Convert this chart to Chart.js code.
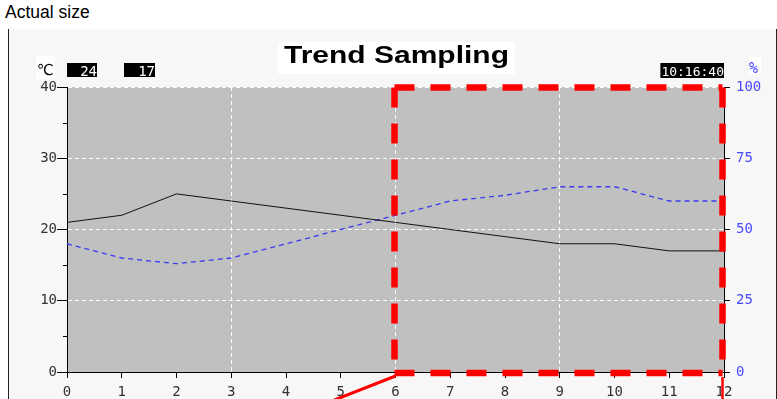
<!DOCTYPE html>
<html>
<head>
<meta charset="utf-8">
<script src="https://cdn.jsdelivr.net/npm/chart.js@4/dist/chart.umd.min.js"></script>
<style>
  html, body { margin: 0; padding: 0; background: #fff; }
  #wrap { position: relative; width: 777px; height: 399px; overflow: hidden; }
  #caption { position: absolute; left: 5px; top: 2px; font: 17.5px "Liberation Sans", Arial, sans-serif; color: #000; }
  #frame { position: absolute; left: 8px; top: 29px; width: 767px; height: 380px;
           background: #f7f7f7; border-left: 1px solid #222; border-right: 1px solid #222; }
  #trend { position: absolute; left: 0; top: 0; }
</style>
</head>
<body>
<div id="wrap">
  <div id="caption">Actual size</div>
  <div id="frame"></div>
  <canvas id="trend" width="777" height="399"></canvas>
</div>
<script>
// ── data ──────────────────────────────────────────────
const sampleLabels = ['0','1','2','3','4','5','6','7','8','9','10','11','12'];
const tempValues   = [21, 22, 25, 24, 23, 22, 21, 20, 19, 18, 18, 17, 17];   // °C, left axis
const humValues    = [45, 40, 38, 40, 45, 50, 55, 60, 62, 65, 65, 60, 60];   // %, right axis
const currentReadings = ['24', '17'];
const sampleTime   = '10:16:40';
const chartTitle   = 'Trend Sampling';
const tempMinorTicks = [5, 15, 25, 35];
const zoomRange    = [6, 12];   // highlighted sample window

const MONO  = '"DejaVu Sans Mono", monospace';
const BLUE  = '#4a4aff';
const GRID  = 'rgba(255,255,255,0.95)';

// plot background + minor ticks on the left axis
const plotBg = {
  id: 'plotBg',
  beforeDraw(chart) {
    const { ctx, chartArea: a } = chart;
    ctx.save();
    ctx.fillStyle = '#c0c0c0';
    ctx.fillRect(a.left, a.top, a.right - a.left, a.bottom - a.top);
    ctx.restore();
  },
  afterDraw(chart) {
    const { ctx, chartArea: a } = chart;
    const y = chart.scales.y;
    ctx.save();
    ctx.strokeStyle = '#000';
    ctx.lineWidth = 1;
    tempMinorTicks.forEach(v => {
      const py = Math.round(y.getPixelForValue(v)) + 0.5;
      ctx.beginPath();
      ctx.moveTo(a.left - 4, py);
      ctx.lineTo(a.left, py);
      ctx.stroke();
    });
    ctx.restore();
  }
};

// header: title, unit labels, current values, clock
const header = {
  id: 'header',
  afterDraw(chart) {
    const { ctx, chartArea: a } = chart;
    ctx.save();
    ctx.textBaseline = 'alphabetic';

    // title on a white plate
    const cx = (a.left + a.right) / 2 + 1;
    ctx.font = 'bold 24px "Liberation Sans", Arial, sans-serif';
    const tw = ctx.measureText(chartTitle).width * 1.25;
    ctx.fillStyle = '#fff';
    ctx.fillRect(cx - tw / 2 - 6, 42, tw + 12, 32);
    ctx.save();
    ctx.translate(cx - tw / 2, 63);
    ctx.scale(1.25, 1.02);
    ctx.fillStyle = '#000';
    ctx.fillText(chartTitle, 0, 0);
    ctx.restore();

    // °C unit
    ctx.fillStyle = '#fff';
    ctx.fillRect(36, 56, 19, 23);
    ctx.fillStyle = '#000';
    ctx.font = '15px "DejaVu Sans", sans-serif';
    ctx.fillText('℃', 37, 75);

    // current readings
    ctx.font = '14px ' + MONO;
    ctx.textAlign = 'right';
    [[67, 97], [124, 155]].forEach(([x0, x1], i) => {
      ctx.fillStyle = '#000';
      ctx.fillRect(x0, 63, x1 - x0, 14);
      ctx.fillStyle = '#fff';
      ctx.fillText(currentReadings[i], x1, 76);
    });

    // clock
    ctx.font = '13px ' + MONO;
    ctx.textAlign = 'left';
    const cw = ctx.measureText(sampleTime).width;
    ctx.fillStyle = '#000';
    ctx.fillRect(a.right - cw - 1, 63, cw + 1, 15);
    ctx.fillStyle = '#fff';
    ctx.fillText(sampleTime, a.right - cw, 76);

    // % unit
    ctx.fillStyle = '#fff';
    ctx.fillRect(749, 57, 12, 17);
    ctx.fillStyle = BLUE;
    ctx.font = '15px ' + MONO;
    ctx.fillText('%', 749, 73);
    ctx.restore();
  }
};

// red markup: dashed window + leader lines
const markup = {
  id: 'markup',
  afterDraw(chart) {
    const { ctx } = chart;
    const x = chart.scales.x, y = chart.scales.y;
    const l = x.getPixelForValue(zoomRange[0]) - 1;
    const r = x.getPixelForValue(zoomRange[1]) - 1.5;
    const t = y.getPixelForValue(40) + 0.5;
    const b = y.getPixelForValue(0) + 1;
    ctx.save();
    ctx.strokeStyle = '#ff0000';
    ctx.lineWidth = 6.5;
    ctx.setLineDash([20, 16]);
    [[l, t, r, t], [r, t, r, b], [l, t, l, b], [l, b, r, b]].forEach(([x1, y1, x2, y2]) => {
      ctx.beginPath();
      ctx.moveTo(x1, y1);
      ctx.lineTo(x2, y2);
      ctx.stroke();
    });
    ctx.setLineDash([]);
    ctx.lineWidth = 3;
    ctx.beginPath();
    ctx.moveTo(l + 1, b + 3);
    ctx.lineTo(l - 60, b + 27);
    ctx.stroke();
    ctx.lineWidth = 2.5;
    ctx.beginPath();
    ctx.moveTo(r, b + 4);
    ctx.lineTo(r, b + 30);
    ctx.stroke();
    ctx.restore();
  }
};

new Chart(document.getElementById('trend').getContext('2d'), {
  type: 'line',
  data: {
    labels: sampleLabels,
    datasets: [
      { data: tempValues, yAxisID: 'y', borderColor: '#111', borderWidth: 1,
        pointRadius: 0, tension: 0, fill: false },
      { data: humValues, yAxisID: 'y1', borderColor: '#3a3af0', borderWidth: 1.3,
        borderDash: [5, 4], pointRadius: 0, tension: 0, fill: false }
    ]
  },
  options: {
    responsive: false,
    devicePixelRatio: 1,
    animation: false,
    layout: { padding: { top: 87, left: 0, right: 0, bottom: 0 } },
    plugins: { legend: { display: false }, tooltip: { enabled: false } },
    scales: {
      x: {
        offset: false,
        afterFit: s => { s.height = 27; },
        grid: {
          color: c => (c.index % 3 === 0 && c.index !== 0 && c.index !== 12) ? GRID : 'rgba(0,0,0,0)',
          tickColor: '#000', tickLength: 6
        },
        border: { color: '#000', dash: [4, 3] },
        ticks: { color: '#333', font: { family: MONO, size: 14 }, padding: 6, maxRotation: 0, autoSkip: false }
      },
      y: {
        position: 'left', min: 0, max: 40,
        afterFit: s => { s.width = 67; },
        grid: {
          color: c => c.tick.value === 0 ? 'rgba(0,0,0,0)' : GRID,
          tickColor: '#000', tickLength: 10
        },
        border: { color: '#000', dash: [4, 3] },
        ticks: { stepSize: 10, color: '#333', font: { family: MONO, size: 14 }, padding: 0 }
      },
      y1: {
        position: 'right', min: 0, max: 100,
        afterFit: s => { s.width = 53; },
        grid: { drawOnChartArea: false, tickColor: '#000', tickLength: 6 },
        border: { color: '#000' },
        ticks: { stepSize: 25, color: BLUE, font: { family: MONO, size: 14 }, padding: 6 }
      }
    }
  },
  plugins: [plotBg, header, markup]
});
</script>
</body>
</html>
